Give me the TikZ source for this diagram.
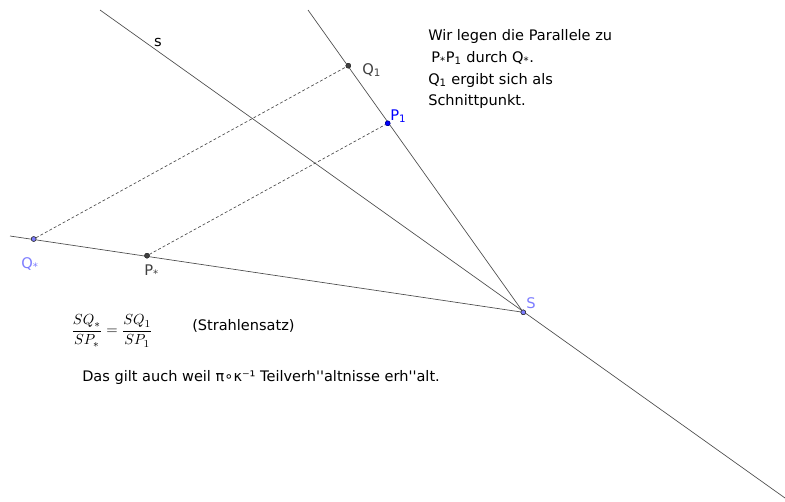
\documentclass[tikz,border=0pt]{standalone}
\usepackage{amsmath}
\usepackage{fontspec}
\setmainfont{DejaVu Sans}
\newfontfamily\plainfont{DejaVu Sans}
\begin{document}
\begin{tikzpicture}[x=0.75pt,y=-0.75pt,
  ln/.style={draw=black!70,line width=0.5pt},
  dsh/.style={draw=black!70,line width=0.5pt,dash pattern=on 2.2pt off 1.6pt},
  pt/.style={circle,inner sep=0pt,minimum size=3.6pt,draw=black!80,line width=0.4pt},
  lbl/.style={inner sep=0pt,font=\fontsize{11}{13}\selectfont},
  txt/.style={inner sep=0pt,font=\fontsize{10.9}{13}\selectfont,anchor=west}]
\useasboundingbox (0,0) rectangle (785,501);
\definecolor{lblue}{RGB}{125,125,255}
\definecolor{dgray}{RGB}{64,64,64}
% coordinates
\coordinate (sA) at (100,10);
\coordinate (sB) at (785,498);
\coordinate (tA) at (308,10);
\coordinate (uA) at (10,236);
\node[pt,fill=lblue] (S) at (523.3,312.3) {};
\node[pt,fill=dgray] (Q1) at (348.3,65.7) {};
\node[pt,fill=blue,draw=blue!60!black] (P1) at (387.7,123.3) {};
\node[pt,fill=lblue] (Qs) at (33.7,239) {};
\node[pt,fill=dgray] (Ps) at (147,255.7) {};
% lines
\draw[ln] (sA) -- (sB);
\draw[ln] (tA) -- (S.center);
\draw[ln] (uA) -- (S.center);
\draw[dsh] (Qs) -- (Q1);
\draw[dsh] (Ps) -- (P1);
% redraw points on top
\node[pt,fill=lblue] at (S) {};
\node[pt,fill=dgray] at (Q1) {};
\node[pt,fill=blue,draw=blue!60!black] at (P1) {};
\node[pt,fill=lblue] at (Qs) {};
\node[pt,fill=dgray] at (Ps) {};
% labels
\node[lbl,text=black] (ls) at (158,42) {s};
\node[lbl,text=dgray,anchor=west] (lQ1) at (362,70) {Q\textsubscript{1}};
\node[lbl,text=blue,anchor=west] (lP1) at (390,116) {P\textsubscript{1}};
\node[lbl,text=lblue,anchor=west] (lQs) at (21,264) {Q\textsubscript{*}};
\node[lbl,text=dgray,anchor=west] (lPs) at (144,271) {P\textsubscript{*}};
\node[lbl,text=lblue,anchor=west] (lS) at (526,303) {S};
% text block
\node[txt] (t1) at (428,36) {Wir legen die Parallele zu};
\node[txt] (t2) at (431,58) {P\textsubscript{*}P\textsubscript{1} durch Q\textsubscript{*}.};
\node[txt] (t3) at (428,80) {Q\textsubscript{1} ergibt sich als};
\node[txt] (t4) at (428,101) {Schnittpunkt.};
% formula
\node[inner sep=0pt,font=\fontsize{11.3}{13}\selectfont] (f) at (112,331) {$\dfrac{SQ_*}{SP_*}=\dfrac{SQ_1}{SP_1}$};
\node[txt] (str) at (192,326) {(Strahlensatz)};
\node[txt,font=\plainfont\fontsize{10.9}{13}\selectfont] (das) at (82,377) {Das gilt auch weil π∘κ⁻¹ Teilverh''altnisse erh''alt.};
\end{tikzpicture}
\end{document}
